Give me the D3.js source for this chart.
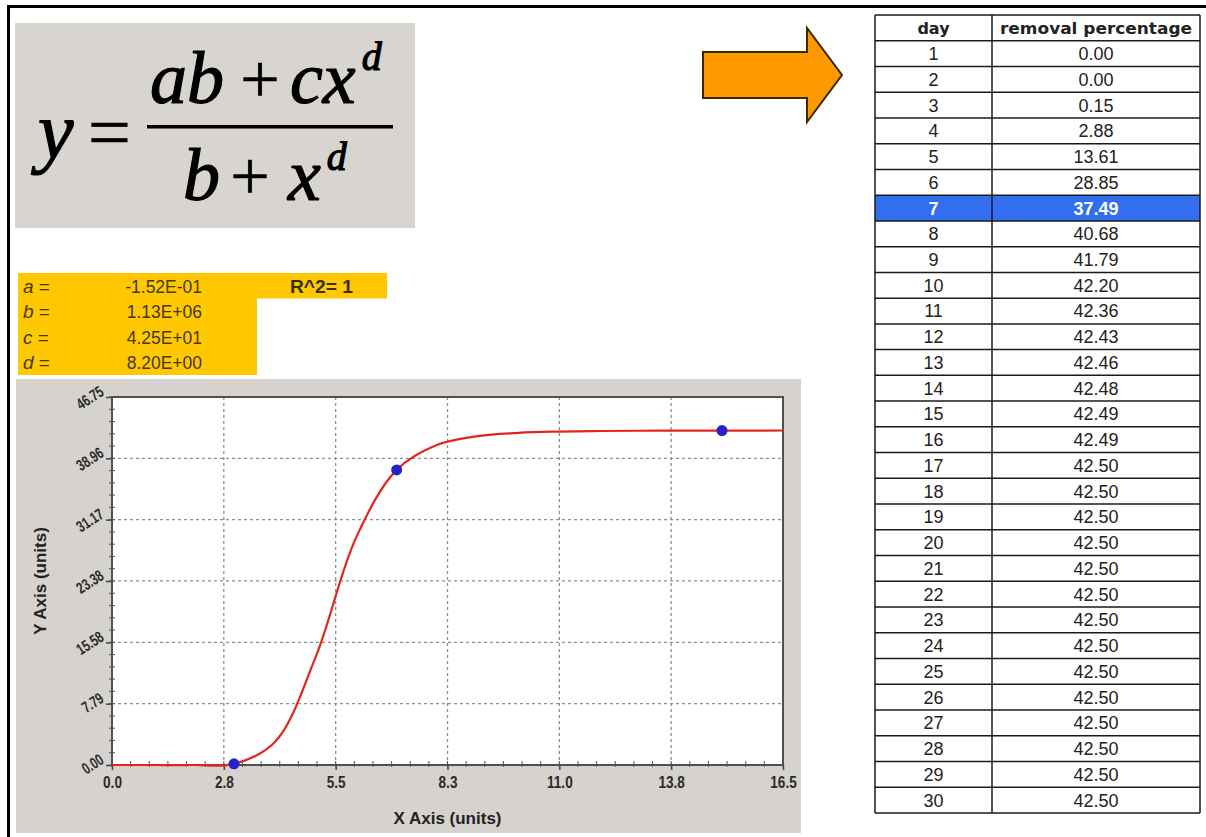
<!DOCTYPE html>
<html>
<head>
<meta charset="utf-8">
<script src="https://cdn.jsdelivr.net/npm/d3@7"></script>
<style>
  body { margin: 0; background: #fff; }
  svg { display: block; }
</style>
</head>
<body>
<div id="chart"></div>
<script>
// fitted parameters shown in the yellow box
const paramNames = ["a", "b", "c", "d"];
const paramValues = ["-1.52E-01", "1.13E+06", "4.25E+01", "8.20E+00"];
const rSquared = "R^2= 1";

// table: day vs removal percentage
const tableDays = [1, 2, 3, 4, 5, 6, 7, 8, 9, 10, 11, 12, 13, 14, 15,
  16, 17, 18, 19, 20, 21, 22, 23, 24, 25, 26, 27, 28, 29, 30];
const removalPct = [0.00, 0.00, 0.15, 2.88, 13.61, 28.85, 37.49, 40.68, 41.79, 42.20,
  42.36, 42.43, 42.46, 42.48, 42.49, 42.49, 42.50, 42.50, 42.50, 42.50,
  42.50, 42.50, 42.50, 42.50, 42.50, 42.50, 42.50, 42.50, 42.50, 42.50];
const highlightDay = 7;

// observed points in the plot
const obsDays = [3, 7, 15];
const obsValues = [0.15, 37.49, 42.49];

// curve starts at the origin in the plot
const curveStart = [0, 0.00];

// axis ticks
const xTicks = [0, 2.75, 5.5, 8.25, 11, 13.75, 16.5];
const xTickLabels = ["0.0", "2.8", "5.5", "8.3", "11.0", "13.8", "16.5"];
const yTicks = [0, 7.79, 15.58, 23.38, 31.17, 38.96, 46.75];
const yTickLabels = ["0.00", "7.79", "15.58", "23.38", "31.17", "38.96", "46.75"];

const W = 1206, H = 837;
const svg = d3.select("#chart").append("svg")
  .attr("width", W).attr("height", H);

// outer black border (left + top)
svg.append("rect").attr("x", 7).attr("y", 5).attr("width", 3).attr("height", H - 5).attr("fill", "#000");
svg.append("rect").attr("x", 7).attr("y", 5).attr("width", W - 7).attr("height", 3).attr("fill", "#000");

// ---- formula box ----
const serif = "'Liberation Serif', 'Times New Roman', serif";
const fx = svg.append("g");
fx.append("rect").attr("x", 15).attr("y", 23).attr("width", 400).attr("height", 205).attr("fill", "#d8d5d0");
const ftext = (s, x, yb, size, italic, anchor) => fx.append("text")
  .attr("x", x).attr("y", yb).attr("font-family", serif)
  .attr("font-size", size).attr("font-style", italic ? "italic" : "normal")
  .attr("text-anchor", anchor || "start").attr("fill", "#000")
  .attr("stroke", "#000").attr("stroke-width", italic ? 1.2 : 0.6).text(s);
ftext("y", 38, 158, 80, true);
ftext("=", 88, 158, 76, false);
ftext("ab", 150, 103, 74, true);
ftext("+", 260, 103, 70, false, "middle");
const cx = ftext("cx", 290, 103, 74, true);
ftext("d", 290 + cx.node().getComputedTextLength() + 6, 70, 40, true);
fx.append("rect").attr("x", 147).attr("y", 125).attr("width", 246).attr("height", 3.5).attr("fill", "#000");
ftext("b", 183, 200, 74, true);
ftext("+", 250, 200, 70, false, "middle");
const xd = ftext("x", 288, 200, 74, true);
ftext("d", 288 + xd.node().getComputedTextLength() + 6, 170, 40, true);

// ---- parameter box ----
const sans = "'Liberation Sans', Arial, sans-serif";
const rowH = 25.5, p0 = 273;
const pColor = "#44380c";
const pg = svg.append("g");
pg.append("rect").attr("x", 18).attr("y", p0).attr("width", 369).attr("height", rowH).attr("fill", "#ffc800");
pg.append("rect").attr("x", 18).attr("y", p0).attr("width", 239).attr("height", rowH * 4).attr("fill", "#ffc800");
paramNames.forEach((n, i) => {
  const yb = p0 + rowH * i + rowH / 2 + 7;
  const t = pg.append("text").attr("x", 23).attr("y", yb)
    .attr("font-family", sans).attr("font-size", 19).attr("fill", pColor);
  t.append("tspan").attr("font-style", "italic").text(n);
  t.append("tspan").text(" =");
  pg.append("text").attr("x", 202).attr("y", yb).attr("text-anchor", "end")
    .attr("font-family", sans).attr("font-size", 19).attr("fill", pColor)
    .attr("transform", `translate(202,0) scale(0.92,1) translate(-202,0)`)
    .text(paramValues[i]);
});
pg.append("text").attr("x", 290).attr("y", p0 + rowH / 2 + 7)
  .attr("font-family", sans).attr("font-size", 19).attr("font-weight", "bold")
  .attr("textLength", 63).attr("lengthAdjust", "spacingAndGlyphs")
  .attr("fill", "#3a2e08").text(rSquared);

// ---- chart panel ----
const panel = { x: 16, y: 379, w: 785, h: 454 };
const plot = { left: 112, right: 783, top: 397, bottom: 765 };
const cg = svg.append("g");
cg.append("rect").attr("x", panel.x).attr("y", panel.y).attr("width", panel.w).attr("height", panel.h).attr("fill", "#d6d3ce");
cg.append("rect").attr("x", plot.left).attr("y", plot.top)
  .attr("width", plot.right - plot.left).attr("height", plot.bottom - plot.top).attr("fill", "#fff");

const x = d3.scaleLinear().domain([0, 16.5]).range([plot.left, plot.right]);
const y = d3.scaleLinear().domain([0, 46.75]).range([plot.bottom, plot.top]);

// dotted grid
cg.append("g").selectAll("line").data(xTicks.slice(1, -1)).join("line")
  .attr("x1", d => x(d)).attr("x2", d => x(d))
  .attr("y1", plot.top).attr("y2", plot.bottom)
  .attr("stroke", "#8f8f8f").attr("stroke-width", 1.3).attr("stroke-dasharray", "3,3");
cg.append("g").selectAll("line").data(yTicks.slice(1, -1)).join("line")
  .attr("x1", plot.left).attr("x2", plot.right)
  .attr("y1", d => y(d)).attr("y2", d => y(d))
  .attr("stroke", "#8f8f8f").attr("stroke-width", 1.3).attr("stroke-dasharray", "3,3");

// minor ticks
const xMinor = d3.range(0, 16.5 + 1e-6, 16.5 / 36);
const yMinor = d3.range(0, 46.75 + 1e-6, 46.75 / 30);
cg.append("g").selectAll("line").data(xMinor).join("line")
  .attr("x1", d => x(d)).attr("x2", d => x(d))
  .attr("y1", plot.bottom - 4).attr("y2", plot.bottom + 2)
  .attr("stroke", "#555").attr("stroke-width", 1);
cg.append("g").selectAll("line").data(yMinor).join("line")
  .attr("x1", plot.left - 3).attr("x2", plot.left + 3)
  .attr("y1", d => y(d)).attr("y2", d => y(d))
  .attr("stroke", "#555").attr("stroke-width", 1);

// axes
const xAxis = cg.append("g").attr("transform", `translate(0,${plot.bottom})`)
  .call(d3.axisBottom(x).tickValues(xTicks).tickFormat((d, i) => xTickLabels[i]).tickSizeInner(5).tickSizeOuter(0));
xAxis.select(".domain").remove();
xAxis.selectAll(".tick line").attr("stroke", "#444").attr("stroke-width", 1.5);
xAxis.selectAll("text").attr("y", 11).attr("dy", "0.71em")
  .attr("font-family", sans).attr("font-size", 17).attr("font-weight", "bold").attr("fill", "#2a2a2a")
  .attr("transform", "scale(0.8,1)");

const yAxis = cg.append("g").attr("transform", `translate(${plot.left},0)`)
  .call(d3.axisLeft(y).tickValues(yTicks).tickFormat((d, i) => yTickLabels[i]).tickSizeInner(6).tickSizeOuter(0));
yAxis.select(".domain").remove();
yAxis.selectAll(".tick line").attr("stroke", "#444").attr("stroke-width", 1.5);
yAxis.selectAll("text").attr("x", null).attr("dy", null)
  .attr("text-anchor", "end")
  .attr("transform", "translate(-7,-3) rotate(-33) scale(0.72,1)")
  .attr("font-family", sans).attr("font-size", 16).attr("font-weight", "bold").attr("fill", "#2a2a2a");

// frame
cg.append("rect").attr("x", plot.left).attr("y", plot.top)
  .attr("width", plot.right - plot.left).attr("height", plot.bottom - plot.top)
  .attr("fill", "none").attr("stroke", "#505050").attr("stroke-width", 2);

// axis titles
cg.append("text").attr("x", (plot.left + plot.right) / 2).attr("y", 824).attr("text-anchor", "middle")
  .attr("font-family", sans).attr("font-size", 17).attr("font-weight", "bold").attr("fill", "#222")
  .text("X Axis (units)");
cg.append("text").attr("transform", `translate(46,${(plot.top + plot.bottom) / 2}) rotate(-90)`)
  .attr("text-anchor", "middle")
  .attr("font-family", sans).attr("font-size", 17).attr("font-weight", "bold").attr("fill", "#222")
  .text("Y Axis (units)");

// fitted curve through the table values
svg.append("clipPath").attr("id", "plotclip").append("rect")
  .attr("x", plot.left).attr("y", plot.top - 2)
  .attr("width", plot.right - plot.left).attr("height", plot.bottom - plot.top + 4);
const curvePts = [curveStart].concat(tableDays.map((d, i) => [d, removalPct[i]]));
cg.append("path").datum(curvePts)
  .attr("clip-path", "url(#plotclip)")
  .attr("fill", "none").attr("stroke", "#e3261c").attr("stroke-width", 2.2)
  .attr("d", d3.line().x(d => x(d[0])).y(d => y(d[1])).curve(d3.curveCatmullRom.alpha(0.5)));

// observed points
cg.append("g").selectAll("circle").data(obsDays).join("circle")
  .attr("cx", d => x(d)).attr("cy", (d, i) => y(obsValues[i]))
  .attr("r", 5.5).attr("fill", "#2323c8");

// ---- arrow ----
svg.append("polygon")
  .attr("points", "703,52 807,52 807,28 842,75 807,122 807,98 703,98")
  .attr("fill", "#ff9900").attr("stroke", "#3a2800").attr("stroke-width", 2)
  .attr("stroke-linejoin", "miter");

// ---- table ----
const tb = { left: 875, mid: 992, right: 1200, top: 15, rowH: 25.74 };
const tg = svg.append("g");
const rows = tableDays.map((d, i) => ({ day: d, val: removalPct[i] }));
tg.selectAll("rect.hl").data(rows.filter(r => r.day === highlightDay)).join("rect")
  .attr("x", tb.left).attr("width", tb.right - tb.left)
  .attr("y", d => tb.top + tb.rowH * (tableDays.indexOf(d.day) + 1))
  .attr("height", tb.rowH).attr("fill", "#316ff0");
// header
tg.append("text").attr("x", (tb.left + tb.mid) / 2).attr("y", tb.top + tb.rowH / 2 + 6)
  .attr("text-anchor", "middle").attr("font-family", "'DejaVu Sans', sans-serif")
  .attr("font-size", 16).attr("font-weight", "bold").attr("fill", "#222").text("day");
tg.append("text").attr("x", (tb.mid + tb.right) / 2).attr("y", tb.top + tb.rowH / 2 + 6)
  .attr("text-anchor", "middle").attr("font-family", "'DejaVu Sans', sans-serif")
  .attr("font-size", 16).attr("font-weight", "bold").attr("fill", "#222")
  .attr("textLength", 192).attr("lengthAdjust", "spacingAndGlyphs").text("removal percentage");
// body rows
const rowG = tg.selectAll("g.row").data(rows).join("g")
  .attr("transform", (d, i) => `translate(0,${tb.top + tb.rowH * (i + 1)})`);
rowG.append("text").attr("x", (tb.left + tb.mid) / 2).attr("y", tb.rowH / 2 + 6.5)
  .attr("text-anchor", "middle").attr("font-family", sans).attr("font-size", 18)
  .attr("font-weight", d => d.day === highlightDay ? "bold" : "normal")
  .attr("fill", d => d.day === highlightDay ? "#fff" : "#222")
  .text(d => d.day);
rowG.append("text").attr("x", (tb.mid + tb.right) / 2).attr("y", tb.rowH / 2 + 6.5)
  .attr("text-anchor", "middle").attr("font-family", sans).attr("font-size", 18)
  .attr("font-weight", d => d.day === highlightDay ? "bold" : "normal")
  .attr("fill", d => d.day === highlightDay ? "#fff" : "#222")
  .text(d => d.val.toFixed(2));
// grid lines of the table
const nRows = rows.length + 1;
tg.append("g").selectAll("line").data(d3.range(nRows + 1)).join("line")
  .attr("x1", tb.left).attr("x2", tb.right)
  .attr("y1", i => tb.top + tb.rowH * i).attr("y2", i => tb.top + tb.rowH * i)
  .attr("stroke", "#1a1a1a").attr("stroke-width", 1.5);
tg.append("g").selectAll("line").data([tb.left, tb.mid, tb.right]).join("line")
  .attr("x1", d => d).attr("x2", d => d)
  .attr("y1", tb.top).attr("y2", tb.top + tb.rowH * nRows)
  .attr("stroke", "#1a1a1a").attr("stroke-width", 1.5);
</script>
</body>
</html>
